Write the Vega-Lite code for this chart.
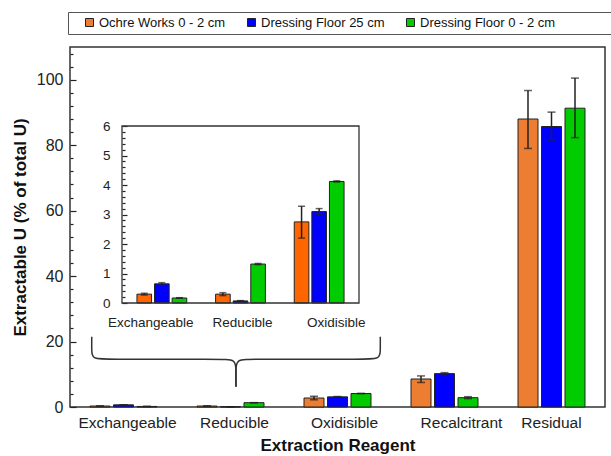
{
  "$schema": "https://vega.github.io/schema/vega-lite/v6.json",
  "width": 535,
  "height": 360,
  "autosize": {"type": "none"},
  "padding": {"left": 70, "top": 47, "right": 6, "bottom": 49},
  "background": "white",
  "config": {
    "font": "Liberation Sans",
    "view": {"stroke": "#333", "strokeWidth": 1.5},
    "axis": {"labelColor": "#222", "titleColor": "#111", "grid": false, "domain": false, "tickColor": "#222", "tickWidth": 1.2}
  },
  "datasets": {
    "uranium": [
      {"reagent": "Exchangeable", "sample": "Ochre Works 0 - 2 cm", "value": 0.3, "lo": 0.27, "hi": 0.33},
      {"reagent": "Exchangeable", "sample": "Dressing Floor 25 cm", "value": 0.65, "lo": 0.61, "hi": 0.69},
      {"reagent": "Exchangeable", "sample": "Dressing Floor 0 - 2 cm", "value": 0.17, "lo": 0.16, "hi": 0.18},
      {"reagent": "Reducible", "sample": "Ochre Works 0 - 2 cm", "value": 0.3, "lo": 0.25, "hi": 0.35},
      {"reagent": "Reducible", "sample": "Dressing Floor 25 cm", "value": 0.07, "lo": 0.06, "hi": 0.08},
      {"reagent": "Reducible", "sample": "Dressing Floor 0 - 2 cm", "value": 1.32, "lo": 1.3, "hi": 1.34},
      {"reagent": "Oxidisible", "sample": "Ochre Works 0 - 2 cm", "value": 2.75, "lo": 2.2, "hi": 3.28},
      {"reagent": "Oxidisible", "sample": "Dressing Floor 25 cm", "value": 3.1, "lo": 3.0, "hi": 3.2},
      {"reagent": "Oxidisible", "sample": "Dressing Floor 0 - 2 cm", "value": 4.12, "lo": 4.1, "hi": 4.14},
      {"reagent": "Recalcitrant", "sample": "Ochre Works 0 - 2 cm", "value": 8.56, "lo": 7.5, "hi": 9.5},
      {"reagent": "Recalcitrant", "sample": "Dressing Floor 25 cm", "value": 10.2, "lo": 9.9, "hi": 10.5},
      {"reagent": "Recalcitrant", "sample": "Dressing Floor 0 - 2 cm", "value": 2.85, "lo": 2.55, "hi": 3.15},
      {"reagent": "Residual", "sample": "Ochre Works 0 - 2 cm", "value": 88.0, "lo": 79.0, "hi": 96.7},
      {"reagent": "Residual", "sample": "Dressing Floor 25 cm", "value": 85.7, "lo": 81.6, "hi": 90.1},
      {"reagent": "Residual", "sample": "Dressing Floor 0 - 2 cm", "value": 91.3, "lo": 82.3, "hi": 100.5}
    ],
    "brace": [
      {"side": "left", "step": 1, "bx": 0.203, "by": 21.5},
      {"side": "left", "step": 2, "bx": 0.203, "by": 17.4},
      {"side": "left", "step": 3, "bx": 0.203, "by": 14.6},
      {"side": "left", "step": 4, "bx": 0.355, "by": 14.6},
      {"side": "left", "step": 5, "bx": 1.402, "by": 14.6},
      {"side": "left", "step": 6, "bx": 1.551, "by": 14.6},
      {"side": "left", "step": 7, "bx": 1.551, "by": 11.3},
      {"side": "left", "step": 8, "bx": 1.551, "by": 6.2},
      {"side": "right", "step": 1, "bx": 2.9, "by": 21.5},
      {"side": "right", "step": 2, "bx": 2.9, "by": 17.4},
      {"side": "right", "step": 3, "bx": 2.9, "by": 14.6},
      {"side": "right", "step": 4, "bx": 2.745, "by": 14.6},
      {"side": "right", "step": 5, "bx": 1.7, "by": 14.6},
      {"side": "right", "step": 6, "bx": 1.551, "by": 14.6},
      {"side": "right", "step": 7, "bx": 1.551, "by": 11.3},
      {"side": "right", "step": 8, "bx": 1.551, "by": 6.2}
    ]
  },
  "layer": [
    {
      "data": {"name": "uranium"},
      "encoding": {
        "x": {
          "field": "reagent", "type": "nominal",
          "sort": ["Exchangeable", "Reducible", "Oxidisible", "Recalcitrant", "Residual"],
          "scale": {"paddingInner": 0.374, "paddingOuter": 0.187},
          "axis": {"title": "Extraction Reagent", "titleFontSize": 17, "titleFontWeight": "bold", "labelFontSize": 15.5, "ticks": false, "labelPadding": 8, "titlePadding": 7, "labelAngle": 0,
            "labelOffset": {"condition": [{"test": "datum.value === 'Recalcitrant'", "value": 17}, {"test": "datum.value === 'Oxidisible'", "value": 7}, {"test": "datum.value === 'Residual'", "value": 0}], "value": 4}}
        },
        "xOffset": {"field": "sample", "type": "nominal", "sort": ["Ochre Works 0 - 2 cm", "Dressing Floor 25 cm", "Dressing Floor 0 - 2 cm"], "scale": {"paddingInner": 0.15}}
      },
      "layer": [
        {
          "mark": {"type": "bar", "stroke": "#222", "strokeWidth": 1},
          "encoding": {
            "y": {"field": "value", "type": "quantitative", "scale": {"domain": [0, 110], "nice": false},
              "axis": {"orient": "left", "values": [0, 20, 40, 60, 80, 100], "tickSize": -6, "labelPadding": 13, "labelFontSize": 16, "title": "Extractable U (% of total U)", "titleFontSize": 17, "titleFontWeight": "bold", "titlePadding": 7}},
            "color": {"field": "sample", "type": "nominal", "sort": ["Ochre Works 0 - 2 cm", "Dressing Floor 25 cm", "Dressing Floor 0 - 2 cm"],
              "scale": {"range": ["#ED7D31", "#0000FF", "#00CC00"]},
              "legend": {"orient": "none", "legendX": -2, "legendY": -35, "direction": "horizontal", "columns": 3, "gridAlign": "none", "title": "\u00a0", "titleOrient": "right", "titlePadding": 60, "padding": 4, "columnPadding": 8, "symbolType": "square", "symbolSize": 64, "symbolStrokeColor": "#222", "symbolStrokeWidth": 1, "labelFontSize": 13, "labelOffset": 3, "strokeColor": "#555", "symbolOffset": 11, "fillColor": "white", "labelColor": "#111"}}
          }
        },
        {
          "mark": {"type": "rule", "color": "#222", "strokeWidth": 1.5},
          "encoding": {
            "y": {"field": "lo", "type": "quantitative", "scale": {"domain": [0, 110], "nice": false},
              "axis": {"orient": "left", "values": [4, 8, 12, 16, 24, 28, 32, 36, 44, 48, 52, 56, 64, 68, 72, 76, 84, 88, 92, 96, 104, 108], "tickSize": -3, "labels": false, "title": null}},
            "y2": {"field": "hi"}
          }
        },
        {
          "mark": {"type": "tick", "color": "#222", "size": 8, "thickness": 1.5},
          "encoding": {"y": {"field": "lo", "type": "quantitative", "scale": {"domain": [0, 110], "nice": false}, "axis": null}}
        },
        {
          "mark": {"type": "tick", "color": "#222", "size": 8, "thickness": 1.5},
          "encoding": {"y": {"field": "hi", "type": "quantitative", "scale": {"domain": [0, 110], "nice": false}, "axis": null}}
        }
      ],
      "resolve": {"axis": {"y": "independent"}}
    },
    {
      "data": {"name": "brace"},
      "mark": {"type": "line", "interpolate": "basis", "stroke": "#333", "strokeWidth": 1.5},
      "encoding": {
        "x": {"field": "bx", "type": "quantitative", "scale": {"domain": [0, 5], "nice": false, "zero": false}, "axis": null},
        "y": {"field": "by", "type": "quantitative", "scale": {"domain": [0, 110], "nice": false}, "axis": null},
        "detail": {"field": "side"},
        "order": {"field": "step"}
      }
    },
    {
      "data": {"name": "uranium"},
      "transform": [{"filter": {"field": "reagent", "oneOf": ["Exchangeable", "Reducible", "Oxidisible"]}}],
      "encoding": {
        "x": {
          "field": "reagent", "type": "nominal",
          "sort": ["Exchangeable", "Reducible", "Oxidisible"],
          "scale": {"range": [52, 289], "paddingInner": 0.367, "paddingOuter": 0.19},
          "axis": {"orient": "bottom", "offset": -104, "title": null, "ticks": false, "labelFontSize": 13.5, "labelPadding": 12, "labelAngle": 0,
            "labelOffset": {"condition": [{"test": "datum.value === 'Exchangeable'", "value": -11}, {"test": "datum.value === 'Oxidisible'", "value": 17}], "value": 2}}
        },
        "xOffset": {"field": "sample", "type": "nominal", "sort": ["Ochre Works 0 - 2 cm", "Dressing Floor 25 cm", "Dressing Floor 0 - 2 cm"], "scale": {"paddingInner": 0.17}}
      },
      "layer": [
        {
          "mark": {"type": "bar", "stroke": "#222", "strokeWidth": 1},
          "encoding": {
            "y": {"field": "value", "type": "quantitative", "scale": {"domain": [0, 6], "range": [256, 79], "nice": false},
              "axis": {"orient": "left", "offset": -52, "values": [0, 1, 2, 3, 4, 5, 6], "tickSize": -5, "labelPadding": 17, "labelFontSize": 13.5, "title": null}},
            "color": {"field": "sample", "type": "nominal", "sort": ["Ochre Works 0 - 2 cm", "Dressing Floor 25 cm", "Dressing Floor 0 - 2 cm"],
              "scale": {"range": ["#FF6600", "#0000FF", "#00CC00"]}, "legend": null}
          }
        },
        {
          "mark": {"type": "rule", "color": "#222", "strokeWidth": 1.5},
          "encoding": {
            "y": {"field": "lo", "type": "quantitative", "scale": {"domain": [0, 6], "range": [256, 79], "nice": false},
              "axis": {"orient": "left", "offset": -52, "values": [0.2, 0.4, 0.6, 0.8, 1.2, 1.4, 1.6, 1.8, 2.2, 2.4, 2.6, 2.8, 3.2, 3.4, 3.6, 3.8, 4.2, 4.4, 4.6, 4.8, 5.2, 5.4, 5.6, 5.8], "tickSize": -3, "labels": false, "title": null}},
            "y2": {"field": "hi"}
          }
        },
        {
          "mark": {"type": "tick", "color": "#222", "size": 7, "thickness": 1.5},
          "encoding": {"y": {"field": "lo", "type": "quantitative", "scale": {"domain": [0, 6], "range": [256, 79], "nice": false}, "axis": null}}
        },
        {
          "mark": {"type": "tick", "color": "#222", "size": 7, "thickness": 1.5},
          "encoding": {"y": {"field": "hi", "type": "quantitative", "scale": {"domain": [0, 6], "range": [256, 79], "nice": false}, "axis": null}}
        }
      ],
      "resolve": {"axis": {"y": "independent"}}
    },
    {
      "data": {"values": [{}]},
      "mark": {"type": "rect", "filled": false, "color": "#333", "strokeWidth": 1.3},
      "encoding": {
        "x": {"datum": 0, "type": "quantitative", "scale": {"domain": [0, 1], "range": [52, 289], "nice": false, "zero": false}, "axis": null},
        "x2": {"datum": 1},
        "y": {"datum": 0, "type": "quantitative", "scale": {"domain": [0, 6], "range": [256, 79], "nice": false}, "axis": null},
        "y2": {"datum": 6}
      }
    }
  ],
  "resolve": {
    "scale": {"x": "independent", "y": "independent", "color": "independent", "xOffset": "independent"},
    "axis": {"x": "independent", "y": "independent"}
  }
}
